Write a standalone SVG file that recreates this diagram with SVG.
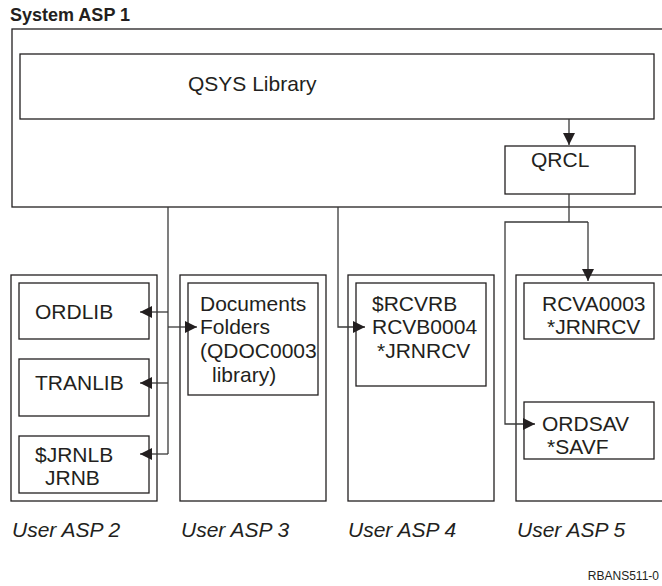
<svg xmlns="http://www.w3.org/2000/svg" width="662" height="586" viewBox="0 0 662 586">
<defs>
<style>
.box{fill:#fff;stroke:#231f20;stroke-width:1.3}
.ln{fill:none;stroke:#3a3a3a;stroke-width:1.3}
.t{font-family:"Liberation Sans",Arial,sans-serif;font-size:21px;fill:#231f20}
.lab{font-family:"Liberation Sans",Arial,sans-serif;font-size:21px;font-style:italic;fill:#231f20}
.title{font-family:"Liberation Sans",Arial,sans-serif;font-size:18px;font-weight:bold;fill:#231f20}
.fig{font-family:"Liberation Sans",Arial,sans-serif;font-size:12px;fill:#231f20}
</style>
<marker id="ah" viewBox="0 0 12 12" refX="12" refY="6" markerWidth="12" markerHeight="12" markerUnits="userSpaceOnUse" orient="auto">
<path d="M0,0 L12,6 L0,12 z" fill="#231f20"/>
</marker>
</defs>
<rect width="662" height="586" fill="#fff"/>

<g id="system-asp-1">
<text class="title" x="10" y="21">System ASP 1</text>
<rect class="box" x="12" y="29" width="680" height="178"/>
</g>
<g id="qsys">
<rect class="box" x="20" y="54" width="634" height="65"/>
<text class="t" x="188" y="91">QSYS Library</text>
</g>
<g id="qrcl">
<rect class="box" x="505" y="146" width="130" height="48"/>
<text class="t" x="531" y="167">QRCL</text>
</g>

<g id="user-asp-2">
<rect class="box" x="11" y="275" width="146" height="226"/>
<text class="lab" x="12" y="537">User ASP 2</text>
</g>
<g id="ordlib">
<rect class="box" x="19" y="283" width="130" height="56"/>
<text class="t" x="35" y="319">ORDLIB</text>
</g>
<g id="tranlib">
<rect class="box" x="19" y="359" width="130" height="57"/>
<text class="t" x="35" y="390">TRANLIB</text>
</g>
<g id="jrnlb">
<rect class="box" x="19" y="436" width="130" height="57"/>
<text class="t" x="35" y="462">$JRNLB</text>
<text class="t" x="45" y="485">JRNB</text>
</g>

<g id="user-asp-3">
<rect class="box" x="180" y="275" width="146" height="226"/>
<text class="lab" x="181" y="537">User ASP 3</text>
</g>
<g id="documents">
<rect class="box" x="188" y="283" width="130" height="112"/>
<text class="t" x="200" y="311">Documents</text>
<text class="t" x="200" y="334">Folders</text>
<text class="t" x="200" y="358">(QDOC0003</text>
<text class="t" x="212" y="382">library)</text>
</g>

<g id="user-asp-4">
<rect class="box" x="348" y="275" width="146" height="226"/>
<text class="lab" x="348" y="537">User ASP 4</text>
</g>
<g id="rcvrb">
<rect class="box" x="356" y="283" width="130" height="103"/>
<text class="t" x="372" y="311">$RCVRB</text>
<text class="t" x="372" y="334">RCVB0004</text>
<text class="t" x="377" y="358">*JRNRCV</text>
</g>

<g id="user-asp-5">
<rect class="box" x="516" y="275" width="170" height="226"/>
<text class="lab" x="517" y="537">User ASP 5</text>
</g>
<g id="rcva0003">
<rect class="box" x="524" y="283" width="130" height="56"/>
<text class="t" x="542" y="311">RCVA0003</text>
<text class="t" x="547" y="334">*JRNRCV</text>
</g>
<g id="ordsav">
<rect class="box" x="524" y="402" width="130" height="57"/>
<text class="t" x="542" y="431">ORDSAV</text>
<text class="t" x="547" y="454">*SAVF</text>
</g>

<g id="connectors">
<line class="ln" x1="569" y1="119" x2="569" y2="145" marker-end="url(#ah)"/>
<line class="ln" x1="168" y1="207" x2="168" y2="454"/>
<line class="ln" x1="168" y1="312" x2="140" y2="312" marker-end="url(#ah)"/>
<line class="ln" x1="168" y1="383" x2="140" y2="383" marker-end="url(#ah)"/>
<line class="ln" x1="168" y1="454" x2="140" y2="454" marker-end="url(#ah)"/>
<line class="ln" x1="168" y1="327" x2="197" y2="327" marker-end="url(#ah)"/>
<polyline class="ln" points="338,207 338,327 365,327" marker-end="url(#ah)"/>
<line class="ln" x1="569" y1="194" x2="569" y2="222"/>
<polyline class="ln" points="588,222 505,222 505,424 535,424" marker-end="url(#ah)"/>
<line class="ln" x1="588" y1="222" x2="588" y2="281" marker-end="url(#ah)"/>
</g>

<text class="fig" x="659" y="580" text-anchor="end">RBANS511-0</text>
</svg>
